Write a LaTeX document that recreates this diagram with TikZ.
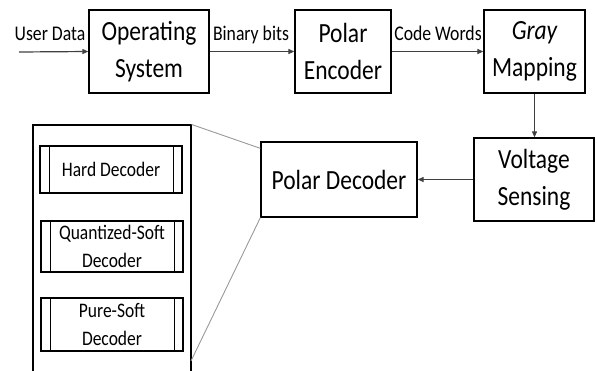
\documentclass[tikz,border=0pt]{standalone}
\usepackage{fontspec}
\setmainfont{Carlito}
\usepackage{graphicx}
\usetikzlibrary{arrows.meta,calc}
\newcommand\sy[1]{\scalebox{1}[1.18]{#1}}
\begin{document}
\begin{tikzpicture}[x=1pt,y=-1pt,
  mainbox/.style={draw=black,line width=1.3pt,inner sep=0pt,align=center,font=\fontsize{23.5}{37}\selectfont},
  decbox/.style={draw=black,line width=1.1pt,inner sep=0pt,align=center,font=\fontsize{17.5}{28}\selectfont},
  flow/.style={draw=black!75,line width=1.2pt,-{Triangle[length=6pt,width=5pt]}},
  lab/.style={font=\fontsize{17.7}{20}\selectfont,inner sep=0pt,anchor=base},
  zoomline/.style={draw=black!40,line width=0.9pt}]
\useasboundingbox (0,0) rectangle (597,370);
\clip (0,0) rectangle (597,370);
% main chain
\node[mainbox,minimum width=120pt,minimum height=83pt] (os) at (149,51.5) {\sy{Operating}\\\sy{System}};
\node[mainbox,minimum width=96pt,minimum height=83pt] (pe) at (343,51.5) {\sy{Polar}\\\sy{Encoder}};
\node[mainbox,minimum width=101pt,minimum height=83pt] (gm) at (534.5,51.5) {\sy{\itshape Gray}\\\sy{Mapping}};
\node[mainbox,minimum width=120pt,minimum height=83pt] (vs) at (534,179.5) {\sy{Voltage}\\\sy{Sensing}};
\node[mainbox,minimum width=156pt,minimum height=75pt] (pd) at (339,179.5) {\sy{Polar Decoder}};
% panel
\node[draw=black,line width=1.1pt,minimum width=158pt,minimum height=260pt,inner sep=0pt] (panel) at (112,255) {};
\node[decbox,minimum width=142pt,minimum height=47pt] (hd) at (111,169.5) {\sy{Hard Decoder}};
\node[decbox,minimum width=142pt,minimum height=51pt] (qs) at (112,246.5) {\sy{Quantized-Soft}\\\sy{Decoder}};
\node[decbox,minimum width=142pt,minimum height=53pt] (ps) at (112,324.5) {\sy{Pure-Soft}\\\sy{Decoder}};
\foreach \b in {hd,qs,ps}{
  \draw[line width=1.1pt] ([xshift=10pt]\b.north west) -- ([xshift=10pt]\b.south west);
  \draw[line width=1.1pt] ([xshift=-9pt]\b.north east) -- ([xshift=-9pt]\b.south east);
}
% labels
\node[lab] (lud) at (50,40) {\sy{User Data}};
\node[lab] (lbb) at (251,40) {\sy{Binary bits}};
\node[lab] (lcw) at (438,40) {\sy{Code Words}};
% connectors
\coordinate (ud) at (19,52);
\draw[flow] (ud) -- (os.west);
\draw[flow] (os.east) -- (pe.west);
\draw[flow] (pe.east) -- (gm.west);
\draw[flow] (gm.south) -- (gm.south |- vs.north);
\draw[flow] (vs.west) -- (pd.east);
% zoom lines
\coordinate (zt) at ($(pd.north west)+(0,7)$);
\coordinate (zb) at (191,361);
\draw[zoomline] (panel.north east) -- (zt);
\draw[zoomline] (pd.south west) -- (zb);
\end{tikzpicture}
\end{document}
